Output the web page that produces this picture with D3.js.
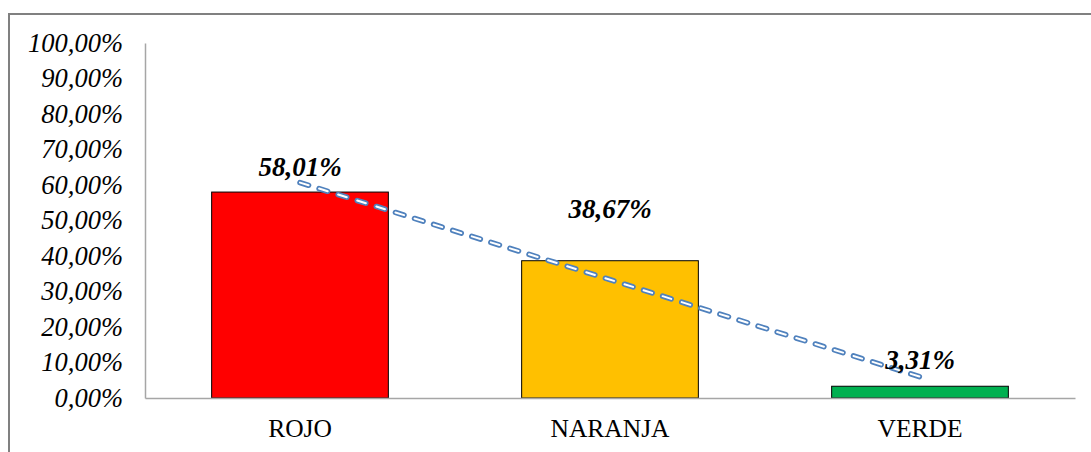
<!DOCTYPE html>
<html>
<head>
<meta charset="utf-8">
<script src="https://cdn.jsdelivr.net/npm/d3@7.9.0/dist/d3.min.js"></script>
<style>
  html, body { margin: 0; padding: 0; background: #fff; }
  svg { display: block; font-family: "Liberation Serif", "Times New Roman", serif; }
</style>
</head>
<body>
<svg id="chart" width="1091" height="452"></svg>
<script>
// categories and values (percent)
const categories = ["ROJO", "NARANJA", "VERDE"];
const values = [58.01, 38.67, 3.31];
const barColors = ["#FF0000", "#FFC000", "#00B050"];
const valueLabels = ["58,01%", "38,67%", "3,31%"];
// label vertical offsets from bar top (Excel labels were dragged around)
const labelOffsets = [-16, -43, -17];
const yTicks = [0, 10, 20, 30, 40, 50, 60, 70, 80, 90, 100];

const width = 1091, height = 452;
const margin = { left: 145, right: 16, top: 43, bottom: 54 };

const svg = d3.select("#chart");

// outer frame (only top and left visible)
svg.append("path")
  .attr("d", `M9,${height} V14 H${width}`)
  .attr("fill", "none")
  .attr("stroke", "#808080")
  .attr("stroke-width", 2);

const x = d3.scaleBand()
  .domain(categories)
  .range([margin.left, width - margin.right])
  .paddingInner(0.43)
  .paddingOuter(0.215);

const y = d3.scaleLinear()
  .domain([0, 100])
  .range([height - margin.bottom, margin.top]);

// y axis
const yAxis = svg.append("g")
  .attr("transform", `translate(${margin.left},0)`)
  .call(d3.axisLeft(y).tickValues(yTicks).tickSize(0).tickPadding(22)
    .tickFormat(d => d3.format(".2f")(d).replace(".", ",") + "%"));
yAxis.select(".domain").attr("stroke", "#A6A6A6").attr("stroke-width", 1.5);
yAxis.selectAll("text")
  .attr("font-size", 26.5)
  .attr("font-style", "italic")
  .attr("fill", "#000")
  .attr("font-family", "Liberation Serif, Times New Roman, serif");

// bars
svg.append("g").selectAll("rect")
  .data(values)
  .join("rect")
  .attr("x", (d, i) => x(categories[i]))
  .attr("y", d => y(d))
  .attr("width", x.bandwidth())
  .attr("height", d => y(0) - y(d))
  .attr("fill", (d, i) => barColors[i])
  .attr("stroke", "#000")
  .attr("stroke-width", 1);

// x axis (baseline)
const xAxis = svg.append("g")
  .attr("transform", `translate(0,${y(0)})`)
  .call(d3.axisBottom(x).tickSize(0).tickPadding(21).tickSizeOuter(0));
xAxis.select(".domain").attr("stroke", "#A6A6A6").attr("stroke-width", 1.5);
xAxis.selectAll("text")
  .attr("font-size", 25.5)
  .attr("fill", "#000")
  .attr("font-family", "Liberation Serif, Times New Roman, serif");

// linear trendline (least squares over category index)
const n = values.length;
const xs = d3.range(1, n + 1);
const mx = d3.mean(xs), my = d3.mean(values);
const slope = d3.sum(xs, (v, i) => (v - mx) * (values[i] - my)) / d3.sum(xs, v => (v - mx) ** 2);
const icpt = my - slope * mx;
const trend = categories.map((c, i) => [x(c) + x.bandwidth() / 2, y(icpt + slope * xs[i])]);
const line = d3.line();
svg.append("path")
  .attr("d", line([trend[0], trend[n - 1]]))
  .attr("fill", "none")
  .attr("stroke", "#4F81BD")
  .attr("stroke-width", 5.5)
  .attr("stroke-linecap", "round")
  .attr("stroke-dasharray", "9 11");
svg.append("path")
  .attr("d", line([trend[0], trend[n - 1]]))
  .attr("fill", "none")
  .attr("stroke", "#fff")
  .attr("stroke-width", 2)
  .attr("stroke-linecap", "round")
  .attr("stroke-dasharray", "9 11");

// data labels
svg.append("g").selectAll("text")
  .data(values)
  .join("text")
  .attr("x", (d, i) => x(categories[i]) + x.bandwidth() / 2)
  .attr("y", (d, i) => y(d) + labelOffsets[i])
  .attr("text-anchor", "middle")
  .attr("font-size", 27)
  .attr("font-weight", "bold")
  .attr("font-style", "italic")
  .attr("fill", "#000")
  .text((d, i) => valueLabels[i]);
</script>
</body>
</html>
